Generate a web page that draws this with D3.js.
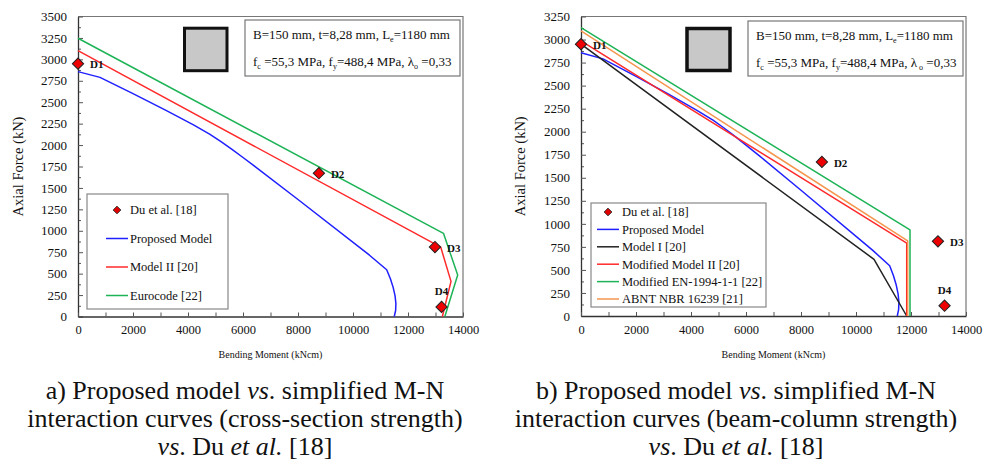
<!DOCTYPE html>
<html>
<head>
<meta charset="utf-8">
<script src="https://cdn.jsdelivr.net/npm/d3@7"></script>
</head>
<body style="margin:0;background:#fff">
<svg id="chart" width="986" height="471" style="display:block"></svg>
<script>
// ---------- DATA ----------
const duPoints = [[0, 2950], [8760, 1672], [12980, 810], [13220, 112]];
const duLabels = ["D1", "D2", "D3", "D4"];

const proposedModel = [[0, 2857], [800, 2790], [2000, 2600], [3200, 2405], [4200, 2235], [4800, 2125],
  [5200, 2040], [5600, 1950], [6000, 1855], [6500, 1735], [8000, 1365], [10600, 715], [11225, 545],
  [11360, 440], [11460, 340], [11530, 240], [11560, 150], [11550, 70], [11500, 0]];
const modelII = [[0, 3101], [13189, 810], [13564, 410], [13250, 0]];
const eurocode = [[0, 3246], [13290, 970], [13807, 484], [13340, 0]];

const modelI = [[0, 2950], [10655, 615], [11844, 0]];
const modifiedModelII = [[0, 2985], [11844, 790], [11844, 0]];
const modifiedEN = [[0, 3130], [11964, 934], [11964, 0]];
const abntNBR = [[0, 3095], [11880, 814], [11880, 0]];

const xTicksA = [0, 2000, 4000, 6000, 8000, 10000, 12000, 14000];
const yTicksA = [0, 250, 500, 750, 1000, 1250, 1500, 1750, 2000, 2250, 2500, 2750, 3000, 3250, 3500];
const yTicksB = [0, 250, 500, 750, 1000, 1250, 1500, 1750, 2000, 2250, 2500, 2750, 3000, 3250];

const legendA = ["Du et al. [18]", "Proposed Model", "Model II [20]", "Eurocode [22]"];
const legendB = ["Du et al. [18]", "Proposed Model", "Model I [20]", "Modified Model II [20]", "Modified EN-1994-1-1 [22]", "ABNT NBR 16239 [21]"];

const captionA = ["a) Proposed model |vs|. simplified M-N", "interaction curves (cross-section strength)", "|vs|. Du |et al.| [18]"];
const captionB = ["b) Proposed model |vs|. simplified M-N", "interaction curves (beam-column strength)", "|vs|. Du |et al.| [18]"];

// ---------- STYLE ----------
const FONT = "Liberation Serif";
const COL = { blue: "#1f1fff", red: "#ff2a2a", green: "#1db356", orange: "#f5964f", black: "#222" };
const svg = d3.select("#chart").attr("font-family", FONT);

function drawPanel(cfg) {
  const g = svg.append("g");
  const x = d3.scaleLinear().domain([0, 14000]).range([cfg.x0, cfg.x1]);
  const y = d3.scaleLinear().domain([0, cfg.yMax]).range([cfg.y1, cfg.y0]);

  g.append("path")
    .attr("d", `M${cfg.x0},${cfg.y0}H${cfg.x1}V${cfg.y1}`)
    .attr("fill", "none").attr("stroke", "#777").attr("stroke-width", 1.2);

  const yMinor = cfg.yTicks.slice(0, -1).map(v => v + 125);
  g.append("g").attr("transform", `translate(${cfg.x0},0)`)
    .call(d3.axisLeft(y).tickValues(yMinor).tickFormat("").tickSize(-3).tickSizeOuter(0))
    .call(a => a.select(".domain").remove())
    .call(a => a.selectAll("line").attr("stroke", "#555"));
  g.append("g").attr("transform", `translate(${cfg.x0},0)`)
    .call(d3.axisLeft(y).tickValues(cfg.yTicks).tickFormat(d3.format("d")).tickSize(-5).tickSizeOuter(0).tickPadding(11))
    .call(a => a.select(".domain").attr("stroke", "#333").attr("stroke-width", 1.3))
    .call(a => a.selectAll("line").attr("stroke", "#555"))
    .call(a => a.selectAll("text").attr("fill", "#111").attr("font-size", 13));

  const xAll = d3.range(0, 14001, 1000);
  g.append("g").attr("transform", `translate(0,${cfg.y1})`)
    .call(d3.axisBottom(x).tickValues(xAll).tickFormat(d => xTicksA.includes(d) ? d3.format("d")(d) : "")
      .tickSize(-4).tickSizeOuter(0).tickPadding(9))
    .call(a => a.select(".domain").attr("stroke", "#333").attr("stroke-width", 1.3))
    .call(a => a.selectAll("line").attr("stroke", "#555"))
    .call(a => a.selectAll("text").attr("fill", "#111").attr("font-size", 12.5));

  g.append("text")
    .attr("transform", `translate(${cfg.yTitleX},${(cfg.y0 + cfg.y1) / 2}) rotate(-90)`)
    .attr("text-anchor", "middle").attr("dy", "0.35em")
    .attr("font-size", 14.5).attr("fill", "#111").text("Axial Force (kN)");
  g.append("text")
    .attr("x", (cfg.x0 + cfg.x1) / 2).attr("y", 358)
    .attr("text-anchor", "middle").attr("font-size", 10).attr("fill", "#111")
    .text("Bending Moment (kNcm)");

  g.append("rect").attr("x", cfg.sq[0]).attr("y", cfg.sq[1]).attr("width", cfg.sq[2]).attr("height", cfg.sq[3])
    .attr("fill", "#c8c8c9").attr("stroke", "#111").attr("stroke-width", cfg.sqStroke);

  const ib = cfg.info;
  g.append("rect").attr("x", ib[0]).attr("y", ib[1]).attr("width", ib[2]).attr("height", ib[3])
    .attr("fill", "#fff").attr("stroke", "#777").attr("stroke-width", 1.2);
  const t1 = g.append("text").attr("x", ib[0] + 8).attr("y", ib[1] + 19).attr("font-size", 13).attr("fill", "#111");
  t1.append("tspan").text("B=150 mm,  t=8,28 mm,  L");
  t1.append("tspan").attr("font-size", 8).attr("dy", 3).text("e");
  t1.append("tspan").attr("dy", -3).text("=1180 mm");
  const t2 = g.append("text").attr("x", ib[0] + 8).attr("y", ib[1] + 46).attr("font-size", 13).attr("fill", "#111");
  t2.append("tspan").text("f");
  t2.append("tspan").attr("font-size", 8).attr("dy", 3).text("c");
  t2.append("tspan").attr("dy", -3).text(" =55,3 MPa, f");
  t2.append("tspan").attr("font-size", 8).attr("dy", 3).text("y");
  t2.append("tspan").attr("dy", -3).text("=488,4 MPa, λ");
  t2.append("tspan").attr("font-size", 8).attr("dy", 3).text(cfg.lambdaSpace ? " o" : "o");
  t2.append("tspan").attr("dy", -3).text(" =0,33");

  const line = d3.line().x(d => x(d[0])).y(d => y(d[1]));
  cfg.series.forEach(s => {
    g.append("path").datum(s.data).attr("d", line)
      .attr("fill", "none").attr("stroke", s.color).attr("stroke-width", 1.5)
      .attr("stroke-linejoin", "round");
  });

  const lg = cfg.legend;
  g.append("rect").attr("x", lg.x).attr("y", lg.y).attr("width", lg.w).attr("height", lg.h)
    .attr("fill", "#fff").attr("stroke", "#888").attr("stroke-width", 1.2);
  lg.labels.forEach((lab, i) => {
    const cy = lg.firstY + i * lg.step;
    if (i === 0) {
      g.append("path").attr("d", d3.symbol(d3.symbolSquare, 30)())
        .attr("transform", `translate(${lg.markX},${cy}) rotate(45)`)
        .attr("fill", "#e00000").attr("stroke", "#222").attr("stroke-width", 0.8);
    } else {
      g.append("line").attr("x1", lg.lineX0).attr("x2", lg.lineX1).attr("y1", cy).attr("y2", cy)
        .attr("stroke", cfg.series[i - 1].color).attr("stroke-width", 1.5);
    }
    g.append("text").attr("x", lg.textX).attr("y", cy).attr("dy", "0.35em")
      .attr("font-size", 12.5).attr("fill", "#111").text(lab);
  });

  duPoints.forEach((p, i) => {
    g.append("path").attr("d", d3.symbol(d3.symbolSquare, 64)())
      .attr("transform", `translate(${x(p[0])},${y(p[1])}) rotate(45)`)
      .attr("fill", "#ee0000").attr("stroke", "#222").attr("stroke-width", 1);
    const above = i === 3;
    g.append("text")
      .attr("x", above ? x(p[0]) : x(p[0]) + 12)
      .attr("y", above ? y(p[1]) - 16 : y(p[1]) + 1)
      .attr("dy", "0.35em").attr("text-anchor", above ? "middle" : "start")
      .attr("font-size", 11).attr("font-weight", "bold").attr("fill", "#111")
      .text(duLabels[i]);
  });

  cfg.caption.forEach((ln, i) => {
    const t = g.append("text").attr("text-anchor", "middle").attr("font-size", 26).attr("fill", "#111")
      .attr("x", cfg.capX).attr("y", 399 + i * 28);
    ln.split("|").forEach((part, j) => {
      if (part === "") return;
      const sub = t.append("tspan").text(part);
      if (j % 2 === 1) sub.attr("font-style", "italic");
    });
  });
}

drawPanel({
  x0: 78, x1: 463, y0: 16.5, y1: 316.5, yMax: 3500, yTicks: yTicksA, yTitleX: 18,
  sq: [184.5, 28.2, 42.5, 42.5], sqStroke: 3,
  info: [245, 20, 215, 56], lambdaSpace: false,
  series: [
    { data: proposedModel, color: COL.blue },
    { data: modelII, color: COL.red },
    { data: eurocode, color: COL.green }
  ],
  legend: { x: 87, y: 194, w: 141, h: 115, labels: legendA, firstY: 210, step: 28.5,
    markX: 117, lineX0: 106, lineX1: 128, textX: 130 },
  caption: captionA, capX: 245
});

drawPanel({
  x0: 581, x1: 966, y0: 16.5, y1: 316, yMax: 3250, yTicks: yTicksB, yTitleX: 520,
  sq: [687, 28.5, 43, 42], sqStroke: 3.5,
  info: [748, 21, 215, 55], lambdaSpace: true,
  series: [
    { data: proposedModel, color: COL.blue },
    { data: modelI, color: COL.black },
    { data: modifiedModelII, color: COL.red },
    { data: modifiedEN, color: COL.green },
    { data: abntNBR, color: COL.orange }
  ],
  legend: { x: 591, y: 203, w: 175, h: 104, labels: legendB, firstY: 212, step: 17.4,
    markX: 608, lineX0: 597, lineX1: 619, textX: 622 },
  caption: captionB, capX: 736
});

svg.selectAll("g").attr("font-family", FONT);
svg.selectAll("text").attr("font-family", FONT);
</script>
</body>
</html>
